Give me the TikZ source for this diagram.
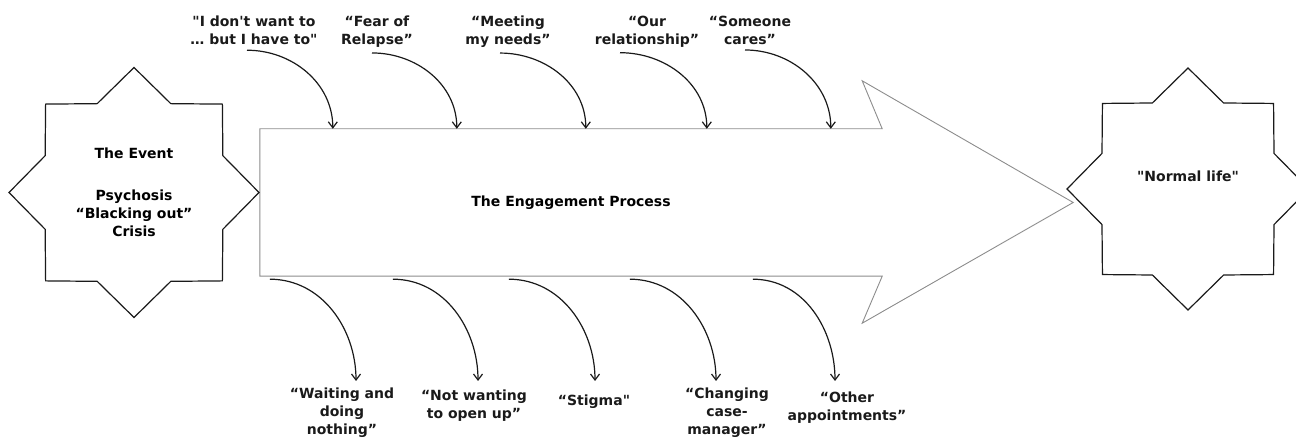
\documentclass[tikz,border=0pt]{standalone}
\usepackage{fontspec}
\usepackage{tikz}
\usetikzlibrary{
  shapes.geometric,
  arrows.meta,
  calc
}
\newfontfamily\diagfont{DejaVu Sans}
\definecolor{InkBlack}{HTML}{1A1A1A}
\definecolor{ShaftGrey}{HTML}{8C8C8C}
\tikzset{
  % Eight-pointed badge at either end
  badge/.style={
    star, star points=8, star point ratio=1.3,
    draw=InkBlack, line width=1.2pt, fill=white,
    inner sep=0pt, align=center,
    font=\diagfont\bfseries\fontsize{14}{18}\selectfont
  },
  % Body of the big arrow (outline drawn separately)
  shaft/.style={
    rectangle, minimum width=622pt, minimum height=147pt,
    inner sep=0pt, font=\diagfont\bfseries\fontsize{14}{18}\selectfont
  },
  % Big arrow outline
  hollow/.style={draw=ShaftGrey, line width=0.9pt, line join=miter},
  % Curved pointer
  arr/.style={
    -{Straight Barb[length=6pt,width=9pt]},
    line width=1.2pt, color=InkBlack
  },
  % Quote label
  lbl/.style={inner sep=0pt, align=center, text=InkBlack,
    font=\diagfont\bfseries\fontsize{14}{18}\selectfont}
}
\begin{document}
\begin{tikzpicture}[x=1pt, y=1pt]
  \useasboundingbox (0,0) rectangle (1296,438);

  % Engagement arrow
  \node[shaft] (proc) at (571,235.5) {The Engagement Process};
  \draw[hollow] (proc.north west) -- (proc.north east)
    -- ($(proc.north east)+(-20,48)$) -- ($(proc.east)+(191,0)$)
    -- ($(proc.south east)+(-20,-47)$) -- (proc.south east)
    -- (proc.south west) -- cycle;

  % Start and end badges
  \node[badge, minimum size=250pt] (event) at (134,245.5) {The Event\\[24pt]Psychosis\\“Blacking out”\\Crisis};
  \node[badge, minimum size=242pt] (life) at (1188,249) {};
  \node[lbl] (lifetxt) at ([yshift=13pt]life.center) {"Normal life"};

  % Pulling in (above)
  \node[lbl, anchor=north] (t1) at (254,422) {"I don't want to\\… but I have to"};
  \node[lbl, anchor=north] (t2) at (377,422) {“Fear of\\Relapse”};
  \node[lbl, anchor=north] (t3) at (508,422) {“Meeting\\my needs”};
  \node[lbl, anchor=north] (t4) at (647,422) {“Our\\relationship”};
  \node[lbl, anchor=north] (t5) at (750,422) {“Someone\\cares”};

  \draw[arr] ([xshift=-7pt,yshift=-5pt]t1.south) to[out=0,in=90] ([xshift=73pt]proc.north west);
  \draw[arr] ([xshift=-5pt,yshift=-5pt]t2.south) to[out=0,in=90] ([xshift=197pt]proc.north west);
  \draw[arr] ([xshift=-8pt,yshift=-5pt]t3.south) to[out=0,in=90] ([xshift=326pt]proc.north west);
  \draw[arr] ([xshift=-27pt,yshift=-5pt]t4.south) to[out=0,in=90] ([xshift=447pt]proc.north west);
  \draw[arr] ([xshift=-5pt,yshift=-5pt]t5.south) to[out=0,in=90] ([xshift=571pt]proc.north west);

  % Pulling away (below)
  \node[lbl, anchor=north] (b1) at (342,50) {“Waiting and\\doing\\nothing”};
  \node[lbl, anchor=north] (b2) at (474,48) {“Not wanting\\to open up”};
  \node[lbl, anchor=north] (b3) at (594,43) {“Stigma"};
  \node[lbl, anchor=north] (b4) at (727,50) {“Changing\\case-\\manager”};
  \node[lbl, anchor=north] (b5) at (847,46) {“Other\\appointments”};

  \draw[arr] ([xshift=10pt,yshift=-3pt]proc.south west) to[out=0,in=90] ([xshift=14pt,yshift=7pt]b1.north);
  \draw[arr] ([xshift=133pt,yshift=-3pt]proc.south west) to[out=0,in=90] ([xshift=4pt,yshift=9pt]b2.north);
  \draw[arr] ([xshift=249pt,yshift=-3pt]proc.south west) to[out=0,in=90] ([xshift=1pt,yshift=14pt]b3.north);
  \draw[arr] ([xshift=370pt,yshift=-3pt]proc.south west) to[out=0,in=90] ([xshift=-11pt,yshift=7pt]b4.north);
  \draw[arr] ([xshift=493pt,yshift=-3pt]proc.south west) to[out=0,in=90] ([xshift=-12pt,yshift=11pt]b5.north);
\end{tikzpicture}
\end{document}
